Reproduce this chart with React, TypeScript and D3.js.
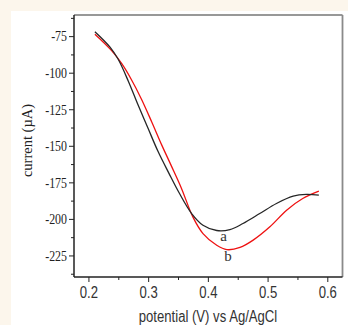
import React, { useRef, useEffect } from "react";
import * as d3 from "d3";

// curve a (black)
const potA = [0.21, 0.235, 0.249, 0.266, 0.282, 0.299, 0.316, 0.334, 0.351, 0.372, 0.391, 0.414, 0.436, 0.458, 0.486, 0.514, 0.542, 0.564, 0.585];
const curA = [-71.6, -82.0, -90.5, -105.5, -121.5, -137.7, -153.8, -168.5, -181.8, -196.0, -204.0, -207.6, -207.0, -202.8, -196.0, -189.1, -184.1, -182.9, -183.4];

// curve b (red)
const potB = [0.21, 0.238, 0.255, 0.271, 0.288, 0.305, 0.322, 0.338, 0.355, 0.374, 0.391, 0.414, 0.431, 0.453, 0.475, 0.503, 0.531, 0.558, 0.585];
const curB = [-73.4, -84.6, -93.5, -104.3, -117.8, -133.2, -149.2, -163.4, -178.8, -198.3, -209.7, -217.7, -220.7, -219.2, -214.2, -205.1, -193.7, -185.7, -180.7];

const xTicks = [0.2, 0.3, 0.4, 0.5, 0.6];
const xMinor = [0.25, 0.35, 0.45, 0.55];
const yTicks = [-75, -100, -125, -150, -175, -200, -225];
const yMinor = [-62.5, -87.5, -112.5, -137.5, -162.5, -187.5, -212.5, -237.5];

const W = 348;
const H = 325;

export default function App() {
  const ref = useRef<SVGSVGElement>(null);

  useEffect(() => {
    const svg = d3.select(ref.current);
    svg.selectAll("*").remove();

    const left = 74, right = 342.5, top = 15, bottom = 277;

    const x = d3.scaleLinear().domain([0.175, 0.6246]).range([left, right]);
    const y = d3.scaleLinear().domain([-239.4, -60.2]).range([bottom, top]);

    // background
    svg.append("rect").attr("width", W).attr("height", H).attr("fill", "#fcf6ec");
    svg.append("rect").attr("x", 11).attr("y", 11).attr("width", W - 11).attr("height", H - 11).attr("fill", "#fff");

    // frame
    svg.append("line").attr("x1", left).attr("x2", right).attr("y1", top).attr("y2", top)
      .attr("stroke", "#333").attr("stroke-width", 1.2);
    svg.append("line").attr("x1", right).attr("x2", right).attr("y1", top).attr("y2", bottom)
      .attr("stroke", "#8a8a8a").attr("stroke-width", 1.8);

    // y axis
    const gy = svg.append("g");
    gy.selectAll(".maj").data(yTicks).enter().append("line")
      .attr("x1", left - 5).attr("x2", left).attr("y1", d => y(d)).attr("y2", d => y(d))
      .attr("stroke", "#222").attr("stroke-width", 1);
    gy.selectAll(".min").data(yMinor).enter().append("line")
      .attr("x1", left - 3).attr("x2", left).attr("y1", d => y(d)).attr("y2", d => y(d))
      .attr("stroke", "#222").attr("stroke-width", 1);
    gy.selectAll("text").data(yTicks).enter().append("text")
      .attr("transform", d => `translate(${left - 7},${y(d) + 4.8}) scale(0.85,1)`)
      .attr("text-anchor", "end")
      .attr("font-family", "Liberation Serif, serif").attr("font-size", 14)
      .attr("fill", "#222")
      .text(d => d);

    // x axis
    const gx = svg.append("g");
    gx.selectAll(".maj").data(xTicks).enter().append("line")
      .attr("x1", d => x(d)).attr("x2", d => x(d)).attr("y1", bottom).attr("y2", bottom + 5)
      .attr("stroke", "#222").attr("stroke-width", 1);
    gx.selectAll(".min").data(xMinor).enter().append("line")
      .attr("x1", d => x(d)).attr("x2", d => x(d)).attr("y1", bottom).attr("y2", bottom + 3)
      .attr("stroke", "#222").attr("stroke-width", 1);
    gx.selectAll("text").data(xTicks).enter().append("text")
      .attr("transform", d => `translate(${x(d)},298) scale(0.82,1)`)
      .attr("text-anchor", "middle")
      .attr("font-family", "Liberation Sans, Arial, sans-serif").attr("font-size", 16)
      .attr("fill", "#333")
      .text(d => d3.format(".1f")(d));

    svg.append("line").attr("x1", left).attr("x2", left).attr("y1", top).attr("y2", bottom)
      .attr("stroke", "#222").attr("stroke-width", 1.5);
    svg.append("line").attr("x1", left).attr("x2", right).attr("y1", bottom).attr("y2", bottom)
      .attr("stroke", "#222").attr("stroke-width", 1.5);

    // axis titles
    svg.append("text")
      .attr("transform", `translate(208,321.5) scale(0.82,1)`)
      .attr("text-anchor", "middle")
      .attr("font-family", "Liberation Sans, Arial, sans-serif").attr("font-size", 16)
      .attr("fill", "#333")
      .text("potential (V) vs Ag/AgCl");
    svg.append("text")
      .attr("transform", `translate(31.5,140.5) rotate(-90)`)
      .attr("text-anchor", "middle")
      .attr("font-family", "Liberation Serif, serif").attr("font-size", 14.5)
      .attr("fill", "#222")
      .text("current (\u00b5A)");

    // curves
    const line = d3.line<[number, number]>()
      .x(d => x(d[0]))
      .y(d => y(d[1]))
      .curve(d3.curveCatmullRom.alpha(0.5));

    const dataA = potA.map((p, i) => [p, curA[i]] as [number, number]);
    const dataB = potB.map((p, i) => [p, curB[i]] as [number, number]);

    svg.append("path").attr("d", line(dataB)).attr("fill", "none")
      .attr("stroke", "#ee1111").attr("stroke-width", 1.3);
    svg.append("path").attr("d", line(dataA)).attr("fill", "none")
      .attr("stroke", "#262626").attr("stroke-width", 1.3);

    // curve labels
    svg.append("text").attr("x", 223.5).attr("y", 240.5).attr("text-anchor", "middle")
      .attr("font-family", "Liberation Serif, serif").attr("font-size", 15).attr("fill", "#333")
      .text("a");
    svg.append("text").attr("x", 228).attr("y", 260.5).attr("text-anchor", "middle")
      .attr("font-family", "Liberation Serif, serif").attr("font-size", 15).attr("fill", "#333")
      .text("b");
  }, []);

  return (
    <svg ref={ref} width={W} height={H}
      style={{ position: "absolute", left: 0, top: 0, display: "block" }} />
  );
}
